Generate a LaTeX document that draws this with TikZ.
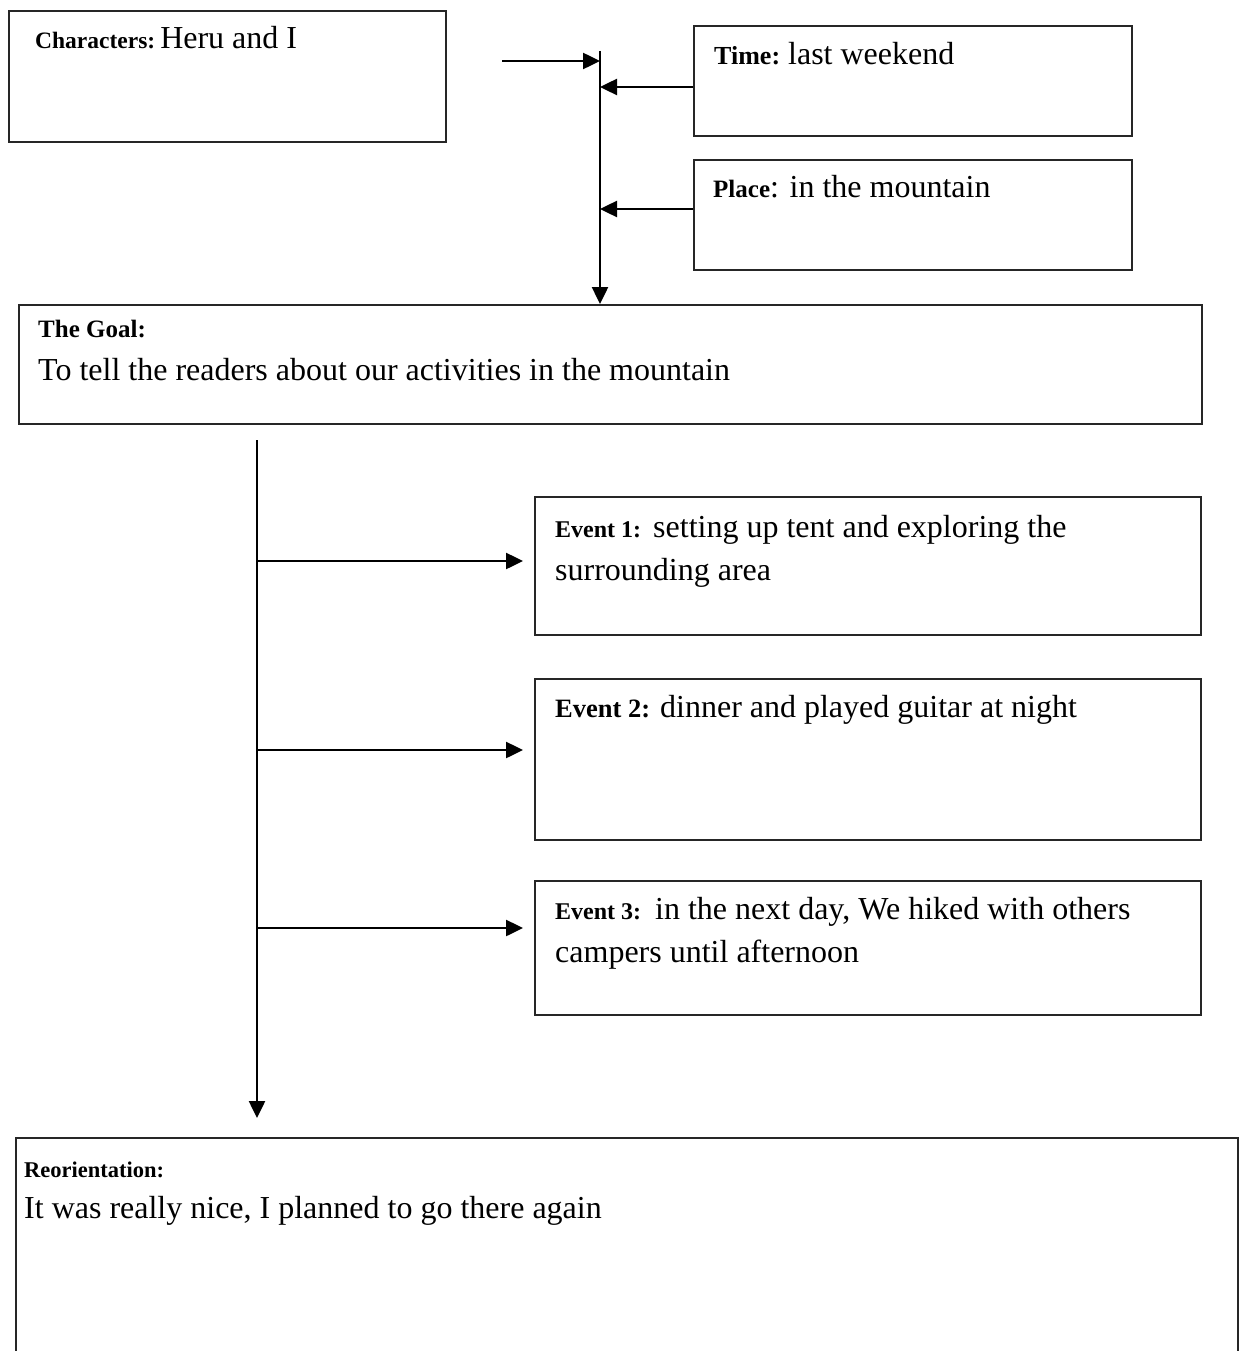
\documentclass[tikz,border=0pt]{standalone}
\usepackage{fontspec}
\setmainfont{Liberation Serif}
\usetikzlibrary{arrows.meta,calc}
\newcommand{\bodysize}{\fontsize{32}{38}\selectfont}
\newcommand{\lbl}[2][25]{{\fontsize{#1}{30}\selectfont\bfseries #2}}
\begin{document}
\begin{tikzpicture}[x=1pt,y=-1pt,
  box/.style={draw=black!85, line width=2pt, rectangle, anchor=north west, inner sep=0pt},
  conn/.style={draw=black, line width=2.5pt},
  arr/.style={conn, -{Triangle[length=17pt,width=16pt]}},
  txt/.style={anchor=base west, inner sep=0pt, font=\bodysize}]
\clip (0,0) rectangle (1243,1351);
\useasboundingbox (0,0) rectangle (1243,1351);

% boxes
\node[box, minimum width=437pt, minimum height=131pt] (chars) at (8,10) {};
\node[box, minimum width=438pt, minimum height=110pt] (time)  at (693,25) {};
\node[box, minimum width=438pt, minimum height=110pt] (place) at (693,159) {};
\node[box, minimum width=1183pt, minimum height=119pt] (goal) at (18,304) {};
\node[box, minimum width=666pt, minimum height=138pt] (ev1) at (534,496) {};
\node[box, minimum width=666pt, minimum height=161pt] (ev2) at (534,678) {};
\node[box, minimum width=666pt, minimum height=134pt] (ev3) at (534,880) {};
\node[box, minimum width=1222pt, minimum height=260pt] (reor) at (15,1137) {};

% texts
\node[txt] (tchars) at (35,49) {\lbl[23.5]{Characters:}\hspace{5pt}Heru and I};
\node[txt] (ttime) at (714,65) {\lbl[26]{Time:}\hspace{8pt}last weekend};
\node[txt] (tplace) at (713,197) {\lbl{Place}: in the mountain};
\node[txt] (tgoal) at (38,337) {\lbl{The Goal:}};
\node[txt] (tgoalb) at (38,380) {To tell the readers about our activities in the mountain};
\node[txt] (tev1) at (555,537) {\lbl[24]{Event 1:}\hspace{12pt}setting up tent and exploring the};
\node[txt] (tev1b) at (555,580) {surrounding area};
\node[txt] (tev2) at (555,717) {\lbl[26.5]{Event 2:}\hspace{10pt}dinner and played guitar at night};
\node[txt] (tev3) at (555,919) {\lbl[24]{Event 3:}\hspace{14pt}in the next day, We hiked with others};
\node[txt] (tev3b) at (555,962) {campers until afternoon};
\node[txt] (treor) at (24,1177) {\lbl[22.5]{Reorientation:}};
\node[txt] (treorb) at (24,1218) {It was really nice, I planned to go there again};

% upper junction
\coordinate (jtop) at (600,51);
\coordinate (cin) at (502,61);
\coordinate (tout) at ($(time.north west)+(0,62)$);
\coordinate (pout) at ($(place.north west)+(0,50)$);
\draw[arr] (jtop) -- (jtop |- goal.north);
\draw[arr] (cin) -- (cin -| jtop);
\draw[arr] (tout) -- (tout -| jtop);
\draw[arr] (pout) -- (pout -| jtop);

% lower trunk
\coordinate (trunk) at (257,440);
\coordinate (e1) at (0,561);
\coordinate (e2) at (0,750);
\coordinate (e3) at (0,928);
\draw[arr, shorten >=19pt] (trunk) -- (trunk |- reor.north);
\draw[arr, shorten >=11pt] (trunk |- e1) -- (ev1.west |- e1);
\draw[arr, shorten >=11pt] (trunk |- e2) -- (ev2.west |- e2);
\draw[arr, shorten >=11pt] (trunk |- e3) -- (ev3.west |- e3);
\end{tikzpicture}
\end{document}
